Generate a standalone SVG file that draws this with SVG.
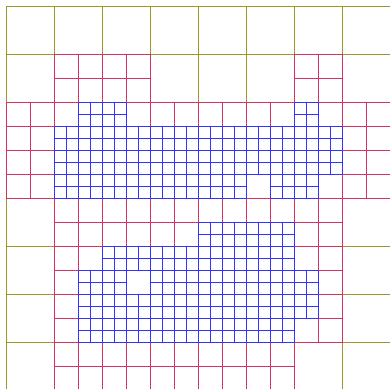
<svg xmlns="http://www.w3.org/2000/svg" width="390" height="389" viewBox="0 0 390 389">
<style>
.o{fill:none;stroke:#999922;stroke-width:1}
.c{fill:none;stroke:#d63064;stroke-width:1}
.b{fill:none;stroke:#3333ff;stroke-width:1}
</style>
<defs>
<rect id="O" class="o" width="48" height="48"/>
<rect id="C" class="c" width="24" height="24"/>
<path id="B" class="b" d="M0 0h24v24h-24z M12 0v24 M0 12h24"/>
</defs>
<rect width="390" height="389" fill="#ffffff"/>
<g id="level0">
<use href="#O" x="6.5" y="6.5"/><use href="#O" x="54.5" y="6.5"/><use href="#O" x="102.5" y="6.5"/><use href="#O" x="150.5" y="6.5"/><use href="#O" x="198.5" y="6.5"/><use href="#O" x="246.5" y="6.5"/><use href="#O" x="294.5" y="6.5"/><use href="#O" x="342.5" y="6.5"/>
<use href="#O" x="6.5" y="54.5"/><use href="#O" x="150.5" y="54.5"/><use href="#O" x="198.5" y="54.5"/><use href="#O" x="246.5" y="54.5"/><use href="#O" x="342.5" y="54.5"/>
<use href="#O" x="6.5" y="198.5"/><use href="#O" x="342.5" y="198.5"/>
<use href="#O" x="6.5" y="246.5"/><use href="#O" x="342.5" y="246.5"/>
<use href="#O" x="6.5" y="294.5"/><use href="#O" x="342.5" y="294.5"/>
<use href="#O" x="6.5" y="342.5"/><use href="#O" x="294.5" y="342.5"/><use href="#O" x="342.5" y="342.5"/>
</g>
<g id="level1">
<use href="#C" x="54.5" y="54.5"/><use href="#C" x="78.5" y="54.5"/><use href="#C" x="102.5" y="54.5"/><use href="#C" x="126.5" y="54.5"/><use href="#C" x="294.5" y="54.5"/><use href="#C" x="318.5" y="54.5"/>
<use href="#C" x="54.5" y="78.5"/><use href="#C" x="78.5" y="78.5"/><use href="#C" x="102.5" y="78.5"/><use href="#C" x="126.5" y="78.5"/><use href="#C" x="294.5" y="78.5"/><use href="#C" x="318.5" y="78.5"/>
<use href="#C" x="6.5" y="102.5"/><use href="#C" x="30.5" y="102.5"/><use href="#C" x="54.5" y="102.5"/><use href="#C" x="126.5" y="102.5"/><use href="#C" x="150.5" y="102.5"/><use href="#C" x="174.5" y="102.5"/><use href="#C" x="198.5" y="102.5"/><use href="#C" x="222.5" y="102.5"/><use href="#C" x="246.5" y="102.5"/><use href="#C" x="270.5" y="102.5"/><use href="#C" x="318.5" y="102.5"/><use href="#C" x="342.5" y="102.5"/><use href="#C" x="366.5" y="102.5"/>
<use href="#C" x="6.5" y="126.5"/><use href="#C" x="30.5" y="126.5"/><use href="#C" x="342.5" y="126.5"/><use href="#C" x="366.5" y="126.5"/>
<use href="#C" x="6.5" y="150.5"/><use href="#C" x="30.5" y="150.5"/><use href="#C" x="342.5" y="150.5"/><use href="#C" x="366.5" y="150.5"/>
<use href="#C" x="6.5" y="174.5"/><use href="#C" x="30.5" y="174.5"/><use href="#C" x="246.5" y="174.5"/><use href="#C" x="318.5" y="174.5"/><use href="#C" x="342.5" y="174.5"/><use href="#C" x="366.5" y="174.5"/>
<use href="#C" x="54.5" y="198.5"/><use href="#C" x="78.5" y="198.5"/><use href="#C" x="102.5" y="198.5"/><use href="#C" x="126.5" y="198.5"/><use href="#C" x="150.5" y="198.5"/><use href="#C" x="174.5" y="198.5"/><use href="#C" x="198.5" y="198.5"/><use href="#C" x="222.5" y="198.5"/><use href="#C" x="246.5" y="198.5"/><use href="#C" x="270.5" y="198.5"/><use href="#C" x="294.5" y="198.5"/><use href="#C" x="318.5" y="198.5"/>
<use href="#C" x="54.5" y="222.5"/><use href="#C" x="78.5" y="222.5"/><use href="#C" x="102.5" y="222.5"/><use href="#C" x="126.5" y="222.5"/><use href="#C" x="150.5" y="222.5"/><use href="#C" x="174.5" y="222.5"/><use href="#C" x="294.5" y="222.5"/><use href="#C" x="318.5" y="222.5"/>
<use href="#C" x="54.5" y="246.5"/><use href="#C" x="78.5" y="246.5"/><use href="#C" x="294.5" y="246.5"/><use href="#C" x="318.5" y="246.5"/>
<use href="#C" x="54.5" y="270.5"/><use href="#C" x="126.5" y="270.5"/><use href="#C" x="318.5" y="270.5"/>
<use href="#C" x="54.5" y="294.5"/><use href="#C" x="318.5" y="294.5"/>
<use href="#C" x="54.5" y="318.5"/><use href="#C" x="294.5" y="318.5"/><use href="#C" x="318.5" y="318.5"/>
<use href="#C" x="54.5" y="342.5"/><use href="#C" x="78.5" y="342.5"/><use href="#C" x="102.5" y="342.5"/><use href="#C" x="126.5" y="342.5"/><use href="#C" x="150.5" y="342.5"/><use href="#C" x="174.5" y="342.5"/><use href="#C" x="198.5" y="342.5"/><use href="#C" x="222.5" y="342.5"/><use href="#C" x="246.5" y="342.5"/><use href="#C" x="270.5" y="342.5"/>
<use href="#C" x="54.5" y="366.5"/><use href="#C" x="78.5" y="366.5"/><use href="#C" x="102.5" y="366.5"/><use href="#C" x="126.5" y="366.5"/><use href="#C" x="150.5" y="366.5"/><use href="#C" x="174.5" y="366.5"/><use href="#C" x="198.5" y="366.5"/><use href="#C" x="222.5" y="366.5"/><use href="#C" x="246.5" y="366.5"/><use href="#C" x="270.5" y="366.5"/>
</g>
<g id="level2">
<use href="#B" x="78.5" y="102.5"/><use href="#B" x="102.5" y="102.5"/><use href="#B" x="294.5" y="102.5"/>
<use href="#B" x="54.5" y="126.5"/><use href="#B" x="78.5" y="126.5"/><use href="#B" x="102.5" y="126.5"/><use href="#B" x="126.5" y="126.5"/><use href="#B" x="150.5" y="126.5"/><use href="#B" x="174.5" y="126.5"/><use href="#B" x="198.5" y="126.5"/><use href="#B" x="222.5" y="126.5"/><use href="#B" x="246.5" y="126.5"/><use href="#B" x="270.5" y="126.5"/><use href="#B" x="294.5" y="126.5"/><use href="#B" x="318.5" y="126.5"/>
<use href="#B" x="54.5" y="150.5"/><use href="#B" x="78.5" y="150.5"/><use href="#B" x="102.5" y="150.5"/><use href="#B" x="126.5" y="150.5"/><use href="#B" x="150.5" y="150.5"/><use href="#B" x="174.5" y="150.5"/><use href="#B" x="198.5" y="150.5"/><use href="#B" x="222.5" y="150.5"/><use href="#B" x="246.5" y="150.5"/><use href="#B" x="270.5" y="150.5"/><use href="#B" x="294.5" y="150.5"/><use href="#B" x="318.5" y="150.5"/>
<use href="#B" x="54.5" y="174.5"/><use href="#B" x="78.5" y="174.5"/><use href="#B" x="102.5" y="174.5"/><use href="#B" x="126.5" y="174.5"/><use href="#B" x="150.5" y="174.5"/><use href="#B" x="174.5" y="174.5"/><use href="#B" x="198.5" y="174.5"/><use href="#B" x="222.5" y="174.5"/><use href="#B" x="270.5" y="174.5"/><use href="#B" x="294.5" y="174.5"/>
<use href="#B" x="198.5" y="222.5"/><use href="#B" x="222.5" y="222.5"/><use href="#B" x="246.5" y="222.5"/><use href="#B" x="270.5" y="222.5"/>
<use href="#B" x="102.5" y="246.5"/><use href="#B" x="126.5" y="246.5"/><use href="#B" x="150.5" y="246.5"/><use href="#B" x="174.5" y="246.5"/><use href="#B" x="198.5" y="246.5"/><use href="#B" x="222.5" y="246.5"/><use href="#B" x="246.5" y="246.5"/><use href="#B" x="270.5" y="246.5"/>
<use href="#B" x="78.5" y="270.5"/><use href="#B" x="102.5" y="270.5"/><use href="#B" x="150.5" y="270.5"/><use href="#B" x="174.5" y="270.5"/><use href="#B" x="198.5" y="270.5"/><use href="#B" x="222.5" y="270.5"/><use href="#B" x="246.5" y="270.5"/><use href="#B" x="270.5" y="270.5"/><use href="#B" x="294.5" y="270.5"/>
<use href="#B" x="78.5" y="294.5"/><use href="#B" x="102.5" y="294.5"/><use href="#B" x="126.5" y="294.5"/><use href="#B" x="150.5" y="294.5"/><use href="#B" x="174.5" y="294.5"/><use href="#B" x="198.5" y="294.5"/><use href="#B" x="222.5" y="294.5"/><use href="#B" x="246.5" y="294.5"/><use href="#B" x="270.5" y="294.5"/><use href="#B" x="294.5" y="294.5"/>
<use href="#B" x="78.5" y="318.5"/><use href="#B" x="102.5" y="318.5"/><use href="#B" x="126.5" y="318.5"/><use href="#B" x="150.5" y="318.5"/><use href="#B" x="174.5" y="318.5"/><use href="#B" x="198.5" y="318.5"/><use href="#B" x="222.5" y="318.5"/><use href="#B" x="246.5" y="318.5"/><use href="#B" x="270.5" y="318.5"/>
</g>
</svg>
